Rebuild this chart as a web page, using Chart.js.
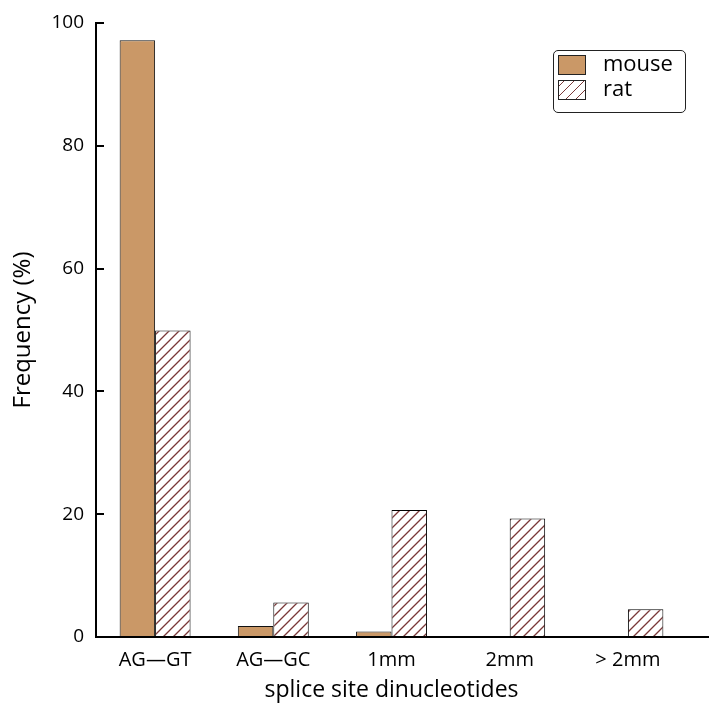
<!DOCTYPE html>
<html>
<head>
<meta charset="utf-8">
<script src="https://cdn.jsdelivr.net/npm/chart.js@4.4.1/dist/chart.umd.min.js"></script>
<style>
  html, body { margin: 0; padding: 0; background: #fff; }
  #wrap { position: relative; width: 709px; height: 708px; }
  #legend {
    position: absolute; left: 553px; top: 50px; width: 131px; height: 61px;
    border: 1px solid #222; border-radius: 5px; background: #fff;
    font-family: "Open Sans", sans-serif; font-size: 22px; color: #000;
  }
  #legend .row { position: absolute; left: 4px; height: 20px; line-height: 20px; }
  #legend .sw { position: absolute; left: 0; top: 0; width: 26px; height: 18px; border: 1px solid #222; }
  #legend .lb { position: absolute; left: 45px; top: -3px; white-space: nowrap; }
</style>
</head>
<body>
<div id="wrap">
  <canvas id="chart" width="709" height="708"></canvas>
  <div id="legend"></div>
</div>
<script>
const categories = ['AG\u2014GT', 'AG\u2014GC', '1mm', '2mm', '> 2mm'];
const mouseValues = [97.2, 1.8, 0.9, 0, 0];
const ratValues   = [49.9, 5.6, 20.7, 19.3, 4.5];
const yTicks      = [0, 20, 40, 60, 80, 100];

const MOUSE_FILL = 'rgb(202,152,103)';
const HATCH_COLOR = '#7a3838';

function hatch()
{
    const c = document.createElement('canvas');
    c.width = 10; c.height = 10;
    const g = c.getContext('2d');
    g.fillStyle = '#fff';
    g.fillRect(0, 0, 10, 10);
    g.strokeStyle = HATCH_COLOR;
    g.lineWidth = 1.3;
    g.beginPath();
    g.moveTo(0, 10); g.lineTo(10, 0);
    g.moveTo(-1, 1); g.lineTo(1, -1);
    g.moveTo(9, 11); g.lineTo(11, 9);
    g.stroke();
    return g.createPattern(c, 'repeat');
}

const ratPattern = hatch();

// x axis line in the reference runs on to the right edge of the figure
const axisTail = {
    id: 'axisTail',
    afterDraw(chart)
    {
        const { ctx, chartArea } = chart;
        ctx.save();
        ctx.strokeStyle = '#000';
        ctx.lineWidth = 2;
        ctx.beginPath();
        ctx.moveTo(chartArea.right - 1, chartArea.bottom);
        ctx.lineTo(chart.width, chartArea.bottom);
        ctx.stroke();
        ctx.restore();
    }
};

Chart.defaults.font.family = '"Open Sans", sans-serif';
Chart.defaults.color = '#000';

new Chart(document.getElementById('chart'), {
    type: 'bar',
    data: {
        labels: categories,
        datasets: [
            {
                label: 'mouse',
                data: mouseValues,
                backgroundColor: MOUSE_FILL,
                borderColor: '#111',
                borderWidth: 1,
                categoryPercentage: 0.6,
                barPercentage: 1.0
            },
            {
                label: 'rat',
                data: ratValues,
                backgroundColor: ratPattern,
                borderColor: '#000',
                borderWidth: 1,
                categoryPercentage: 0.6,
                barPercentage: 1.0
            }
        ]
    },
    plugins: [axisTail],
    options: {
        responsive: false,
        animation: false,
        layout: { padding: { left: 0, right: 22, top: 23, bottom: 0 } },
        plugins: {
            legend: { display: false },
            tooltip: { enabled: false }
        },
        scales: {
            x: {
                grid: { display: false },
                border: { display: true, color: '#000', width: 2 },
                ticks: { font: { size: 20 }, padding: 3, color: '#000' },
                title: {
                    display: true,
                    text: 'splice site dinucleotides',
                    font: { size: 23 },
                    padding: { top: 2, bottom: 4 },
                    color: '#000'
                },
                afterFit(scale) { scale.height = 71; }
            },
            y: {
                min: 0,
                max: 100,
                afterBuildTicks(scale) { scale.ticks = yTicks.map(v => ({ value: v })); },
                grid: {
                    display: true,
                    drawOnChartArea: false,
                    drawTicks: true,
                    tickLength: -8,
                    color: '#000',
                    lineWidth: 2
                },
                border: { display: true, color: '#000', width: 2 },
                ticks: { font: { size: 19 }, padding: 20, color: '#000' },
                title: {
                    display: true,
                    text: 'Frequency (%)',
                    font: { size: 24 },
                    padding: { top: 9, bottom: 0 },
                    color: '#000'
                },
                afterFit(scale)
                {
                    scale.width = 96;
                    scale.paddingTop = 10;
                    scale.paddingBottom = 10;
                }
            }
        }
    }
});

const legendItems = [
    { label: 'mouse', fill: MOUSE_FILL },
    { label: 'rat',   fill: 'repeating-linear-gradient(-45deg, #fff 0 6px, ' + HATCH_COLOR + ' 6px 7px)' }
];
const legend = document.getElementById('legend');
legendItems.forEach((item, i) => {
    const row = document.createElement('div');
    row.className = 'row';
    row.style.top = (4 + i * 25) + 'px';
    row.innerHTML = '<div class="sw" style="background:' + item.fill + '"></div><div class="lb">' + item.label + '</div>';
    legend.appendChild(row);
});
</script>
</body>
</html>
